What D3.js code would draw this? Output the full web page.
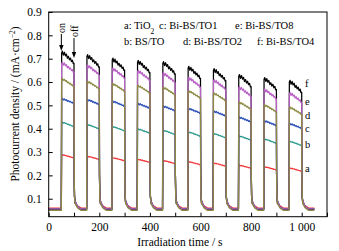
<!DOCTYPE html>
<html><head><meta charset="utf-8">
<script src="https://cdn.jsdelivr.net/npm/d3@7"></script>
<style>
html,body{margin:0;padding:0;background:#fff;}
svg{display:block;font-family:"Liberation Serif","Times New Roman",serif;}
</style></head>
<body><svg id="c" width="339" height="251"></svg>
<script>
// ---- data ----
const series = ["a","b","c","d","e","f"];
const seriesNames = ["TiO2","BS/TO","Bi-BS/TO1","Bi-BS/TO2","Bi-BS/TO8","Bi-BS/TO4"];
const seriesColors = ["#f2383a","#2a9a8c","#2b50b8","#8c8a42","#b860c4","#000000"];
const onTimes = [50,150,250,350,450,550,650,750,850,950];
const offTimes = [100,200,300,400,500,600,700,800,900,1000];
const endTime = 1050;
// photocurrent at light-on (peak) and at light-off (end) for each pulse
const peakA = [0.288,0.281,0.275,0.268,0.263,0.258,0.252,0.243,0.236,0.231];
const endA  = [0.274,0.268,0.262,0.255,0.250,0.245,0.239,0.230,0.223,0.217];
const peakB = [0.427,0.417,0.408,0.398,0.392,0.385,0.378,0.368,0.355,0.345];
const endB  = [0.408,0.398,0.390,0.380,0.374,0.367,0.360,0.350,0.337,0.327];
const peakC = [0.527,0.523,0.516,0.506,0.495,0.485,0.473,0.448,0.432,0.420];
const endC  = [0.508,0.503,0.496,0.487,0.476,0.466,0.454,0.428,0.413,0.401];
const peakD = [0.612,0.601,0.591,0.583,0.575,0.560,0.550,0.512,0.500,0.490];
const endD  = [0.580,0.570,0.560,0.552,0.544,0.530,0.519,0.482,0.471,0.461];
const peakE = [0.680,0.668,0.655,0.645,0.635,0.615,0.605,0.575,0.565,0.550];
const endE  = [0.642,0.630,0.617,0.607,0.597,0.578,0.568,0.538,0.528,0.513];
const peakF = [0.725,0.710,0.695,0.685,0.680,0.660,0.650,0.625,0.612,0.600];
const endF  = [0.680,0.665,0.651,0.641,0.635,0.616,0.606,0.581,0.568,0.556];
// shape of the decay inside one light pulse (seconds after light-on, share of the drop)
const pulseT    = [1.2, 4, 8, 12, 16, 20, 24, 28, 32, 36, 40, 44, 47, 50];
const pulseDrop = [0, 0.02, 0.08, 0.14, 0.2, 0.28, 0.36, 0.45, 0.55, 0.65, 0.74, 0.84, 0.92, 1];
// visible ripple on the plateau (mA·cm-2 for curve f, scaled per curve)
const ripple    = [0, 0.008, -0.006, 0.009, -0.004, 0.007, -0.007, 0.005, -0.005, 0.007, -0.004, 0.006, -0.005, 0];
const rippleAmp = [0.15, 0.2, 0.4, 0.45, 0.75, 1.0];
const darkLevel = [0.060,0.056,0.055,0.050,0.056,0.055];
const tailLevel = [0.080,0.082,0.082,0.080,0.090,0.092];
const yTicks = [0.1,0.2,0.3,0.4,0.5,0.6,0.7,0.8,0.9];
const xTicks = [0,100,200,300,400,500,600,700,800,900,1000,1100];
const xTickLabels = {0:"0",200:"200",400:"400",600:"600",800:"800",1000:"1 000"};
const labelValues = [0.215,0.318,0.388,0.442,0.500,0.580];

const peaks = [peakA,peakB,peakC,peakD,peakE,peakF];
const ends = [endA,endB,endC,endD,endE,endF];

// ---- layout ----
const svg = d3.select("#c");
const L = 48.7, R = 327, T = 12, B = 216.7;
const x = d3.scaleLinear().domain([0,1100]).range([L,R]);
const y = d3.scaleLinear().domain([0.023,0.9]).range([B,T]);

function buildSeries(k){
  const pts = [];
  const d = darkLevel[k], tl = tailLevel[k];
  pts.push([0,d]);
  onTimes.forEach((on,i)=>{
    const off = offTimes[i];
    const p = peaks[k][i], e = ends[k][i];
    pts.push([on,d]);
    pulseT.forEach((dt,j)=>{
      pts.push([on+dt, p-(p-e)*pulseDrop[j] + ripple[j]*rippleAmp[k]]);
    });
    pts.push([off+0.8,0.2]);
    pts.push([off+2,0.11]);
    pts.push([off+4,tl]);
    pts.push([off+14,d+0.01]);
    pts.push([off+28,d]);
  });
  pts.push([endTime,d]);
  return pts;
}

const line = d3.line().x(p=>x(p[0])).y(p=>y(p[1]));
const drawOrder = [0,1,2,5,4,3];
const g = svg.append("g");
drawOrder.forEach(k=>{
  g.append("path").attr("d",line(buildSeries(k)))
   .attr("fill","none").attr("stroke",seriesColors[k]).attr("stroke-width",1.25)
   .attr("stroke-linejoin","round");
});

// frame
svg.append("rect").attr("x",L).attr("y",T).attr("width",R-L).attr("height",B-T)
  .attr("fill","none").attr("stroke","#000").attr("stroke-width",1);

// axes (inward ticks)
const xAxis = d3.axisBottom(x).tickValues(xTicks).tickSizeInner(-4).tickSizeOuter(0)
  .tickFormat(v=>xTickLabels[v]!==undefined?xTickLabels[v]:"");
const gx = svg.append("g").attr("transform",`translate(0,${B})`).call(xAxis);
gx.select(".domain").remove();
gx.selectAll("text").attr("font-size","11.5px").attr("font-family","Liberation Serif").attr("fill","#000").attr("dy","0").attr("y",14);
const yAxis = d3.axisLeft(y).tickValues(yTicks).tickSizeInner(-4).tickSizeOuter(0)
  .tickFormat(d3.format(".1f"));
const gy = svg.append("g").attr("transform",`translate(${L},0)`).call(yAxis);
gy.select(".domain").remove();
gy.selectAll("text").attr("font-size","11.5px").attr("font-family","Liberation Serif").attr("fill","#000").attr("x",-7);

// axis titles
svg.append("text").attr("x",(L+R)/2-8).attr("y",245.5).attr("text-anchor","middle")
  .attr("font-size","11.5px").text("Irradiation time / s");
const yt = svg.append("text").attr("transform","translate(18.5,104) rotate(-90)")
  .attr("text-anchor","middle").attr("font-size","11.5px");
yt.append("tspan").text("Photocurrent density / (mA\u00b7cm");
yt.append("tspan").attr("baseline-shift","super").attr("font-size","7.5px").text("\u22122");
yt.append("tspan").text(")");

// legend
const legendPos = [[124,28.5],[124,44.5],[159,28.5],[183,44.5],[235,28.5],[257,44.5]];
series.forEach((s,k)=>{
  const t = svg.append("text").attr("x",legendPos[k][0]).attr("y",legendPos[k][1]).attr("font-size","10.5px");
  if(k===0){
    t.append("tspan").text(s+": TiO");
    t.append("tspan").attr("baseline-shift","sub").attr("font-size","7.5px").text("2");
  } else {
    t.text(s+": "+seriesNames[k]);
  }
});

// curve labels
series.forEach((s,k)=>{
  svg.append("text").attr("x",305).attr("y",y(labelValues[k])).attr("font-size","10.5px").text(s);
});

// on/off arrows
[["on",50,33,51],["off",100,37,58]].forEach(([lab,t,y0,y1])=>{
  const xx = x(t);
  svg.append("text").attr("transform",`translate(${xx},${y0}) rotate(-90)`)
    .attr("dy","0.35em").attr("font-size","10px").text(lab);
  svg.append("line").attr("x1",xx).attr("x2",xx).attr("y1",y0+1).attr("y2",y1-4)
    .attr("stroke","#000").attr("stroke-width",1);
  svg.append("path").attr("d",`M${xx-2.2},${y1-6}L${xx+2.2},${y1-6}L${xx},${y1}Z`).attr("fill","#000");
});
</script></body></html>
